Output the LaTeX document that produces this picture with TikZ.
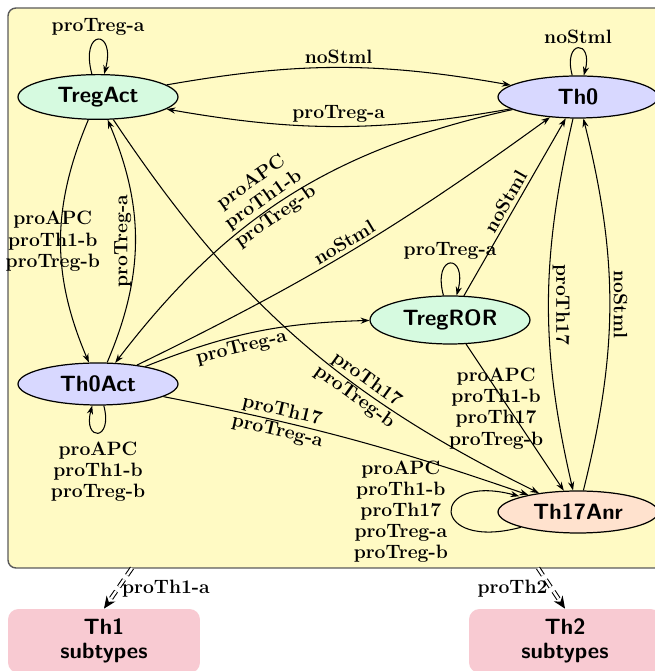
\documentclass[tikz,border=0pt]{standalone}
\usetikzlibrary{shapes.geometric,arrows.meta}

\definecolor{bgyellow}{RGB}{255,250,196}
\definecolor{greenfill}{RGB}{214,250,224}
\definecolor{bluefill}{RGB}{216,216,255}
\definecolor{peachfill}{RGB}{255,226,206}
\definecolor{pinkfill}{RGB}{248,202,210}
\definecolor{framegray}{RGB}{90,90,90}

\tikzstyle{cell} = [ellipse, draw, line width=0.7pt, minimum width=3.2cm, minimum height=0.84cm, font=\fontsize{12.6}{15}\selectfont\sffamily\bfseries]
\tikzstyle{subtype} = [rectangle, rounded corners=6pt, fill=pinkfill, minimum width=3.84cm, minimum height=1.28cm, align=center, font=\fontsize{12.6}{14}\selectfont\sffamily\bfseries]
\tikzstyle{elabel} = [font=\fontsize{11}{12}\selectfont\bfseries, align=center, inner sep=2pt]
\tikzstyle{trans} = [->, line width=0.6pt]
\tikzstyle{exitarrow} = [double, double distance=1.4pt, line width=0.6pt, dash pattern=on 5pt off 3pt, -{Stealth[length=7pt,width=6pt]}]

\begin{document}
\begin{tikzpicture}[x=0.02cm, y=0.02cm, >={Stealth[length=5pt,width=3.5pt]}]
\useasboundingbox (0,0) rectangle (654,671);
\draw[rounded corners=0.16cm, fill=bgyellow, draw=framegray, line width=0.8pt] (8,663) rectangle (720,103);

\node[cell, fill=greenfill] (tregact) at (98,574) {TregAct};
\node[cell, fill=bluefill] (th0) at (578,574) {Th0};
\node[cell, fill=greenfill, minimum height=0.96cm] (tregror) at (450,351) {TregROR};
\node[cell, fill=bluefill] (th0act) at (98,287) {Th0Act};
\node[cell, fill=peachfill] (th17anr) at (578,159) {Th17Anr};
\node[subtype] (th1) at (104,30) {Th1\\subtypes};
\node[subtype] (th2) at (565,30) {Th2\\subtypes};

\coordinate (out1) at (132,103);
\coordinate (out2) at (538,103);

% self loops
\path[trans]
  (tregact) edge[loop above, min distance=0.95cm] node[elabel, above] {proTreg-a} (tregact)
  (th0) edge[loop above, min distance=0.75cm] node[elabel, above] {noStml} (th0)
  (tregror) edge[loop above, min distance=0.88cm] node[elabel, above] {proTreg-a} (tregror)
  (th0act) edge[loop below, min distance=0.75cm] node[elabel, below=3pt] {proAPC\\proTh1-b\\proTreg-b} (th0act)
  (th17anr) edge[loop left] node[elabel, left] {proAPC\\proTh1-b\\proTh17\\proTreg-a\\proTreg-b} (th17anr);

% transitions
\path[trans]
  (tregact) edge[bend left=10] node[elabel, above] {noStml} (th0)
  (th0) edge[bend left=10] node[elabel, above] {proTreg-a} (tregact)
  (th0) edge[bend right=20] node[elabel, pos=0.55, sloped, above=-13pt] {proAPC\\proTh1-b\\proTreg-b} (th0act)
  (th0act) edge[bend right=5] node[elabel, sloped, above] {noStml} (th0)
  (tregror) edge node[elabel, sloped, above] {noStml} (th0)
  (th0) edge[bend right=13] node[elabel, rotate=-90, anchor=south] {proTh17} (th17anr)
  (th17anr) edge[bend right=14] node[elabel, rotate=-90, anchor=south] {noStml} (th0)
  (tregact) edge[bend right=23] node[elabel, xshift=-0.16cm] {proAPC\\proTh1-b\\proTreg-b} (th0act)
  (th0act) edge[bend right=23] node[elabel, rotate=90, anchor=south] {proTreg-a} (tregact)
  (tregact) edge[bend right=15] node[elabel, pos=0.65, sloped] {proTh17\\proTreg-b} (th17anr)
  (th0act) edge[bend left=10] node[elabel, pos=0.42, sloped, below] {proTreg-a} (tregror)
  (th0act) edge[bend left=4] node[elabel, pos=0.3, sloped] {proTh17\\proTreg-a} (th17anr)
  (tregror) edge node[elabel, pos=0.44, xshift=-0.26cm] {proAPC\\proTh1-b\\proTh17\\proTreg-b} (th17anr);

% leaving the cluster
\draw[exitarrow] (out1) -- node[elabel, right] {proTh1-a} (th1.north);
\draw[exitarrow] (out2) -- node[elabel, left] {proTh2} (th2.north);
\end{tikzpicture}
\end{document}
